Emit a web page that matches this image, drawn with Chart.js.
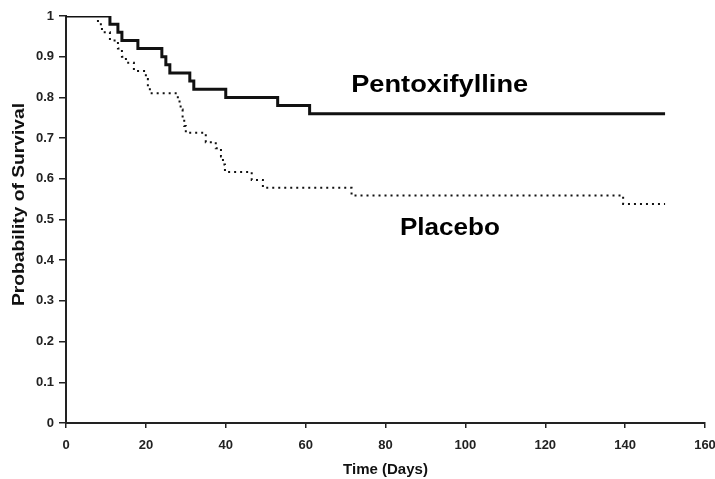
<!DOCTYPE html>
<html>
<head>
<meta charset="utf-8">
<script src="https://cdn.jsdelivr.net/npm/chart.js@4.4.1/dist/chart.umd.min.js"></script>
<style>
  html, body { margin: 0; padding: 0; background: #fff; }
  #c { display: block; }
</style>
</head>
<body>
<canvas id="c" width="715" height="479"></canvas>
<script>
// ---- data ----
const pentoxDays = [0, 11, 13, 14, 18, 24, 25, 26, 31, 32, 40, 53, 61, 150];
const pentoxSurv = [1, 0.98, 0.96, 0.94, 0.92, 0.90, 0.88, 0.86, 0.84, 0.82, 0.80, 0.78, 0.76, 0.76];

const placeboDays = [0, 8, 9, 11, 13, 14, 15, 17, 20, 20.5, 21, 28, 28.7, 29.2, 29.6, 30, 35, 37.5, 38.8, 39.3, 39.8, 46.5, 49.3, 71.5, 139.5, 150];
const placeboSurv = [1, 0.98, 0.96, 0.94, 0.92, 0.90, 0.885, 0.865, 0.845, 0.825, 0.81, 0.79, 0.77, 0.75, 0.73, 0.713, 0.69, 0.675, 0.655, 0.635, 0.617, 0.597, 0.578, 0.559, 0.538, 0.538];

const seriesNames = ['Pentoxifylline', 'Placebo'];
const xTickLabels = ['0', '20', '40', '60', '80', '100', '120', '140', '160'];
const yTickLabels = ['0', '0.1', '0.2', '0.3', '0.4', '0.5', '0.6', '0.7', '0.8', '0.9', '1'];
const xTitle = 'Time (Days)';
const yTitle = 'Probability of Survival';

// ---- label placement (style, not data) ----
const seriesLabelStyle = [
  { x: 71.4, y: 0.813, size: 24, width: 177 },
  { x: 83.6, y: 0.462, size: 24, width: 100 }
];

const toPoints = (xs, ys) => xs.map((d, i) => ({ x: d, y: ys[i] }));

const textPlugin = {
  id: 'textPlugin',
  afterDraw(chart) {
    const { ctx, scales: { x, y } } = chart;
    ctx.save();
    ctx.fillStyle = '#000';
    ctx.textBaseline = 'alphabetic';
    ctx.textAlign = 'left';
    seriesNames.forEach((name, i) => {
      const s = seriesLabelStyle[i];
      ctx.font = 'bold ' + s.size + 'px "Liberation Sans", Arial, sans-serif';
      const w = ctx.measureText(name).width;
      const px = x.getPixelForValue(s.x);
      const py = y.getPixelForValue(s.y);
      ctx.save();
      ctx.translate(px, py);
      ctx.scale(s.width / w, 1);
      ctx.fillText(name, 0, 0);
      ctx.restore();
    });
    // y axis title
    ctx.font = 'bold 16px "Liberation Sans", Arial, sans-serif';
    ctx.fillStyle = '#111';
    const tw = ctx.measureText(yTitle).width;
    ctx.translate(20, 204.5);
    ctx.rotate(-Math.PI / 2);
    ctx.scale(203 / tw, 1);
    ctx.textAlign = 'center';
    ctx.textBaseline = 'middle';
    ctx.fillText(yTitle, 0, 0);
    ctx.restore();
  }
};

new Chart(document.getElementById('c'), {
  type: 'line',
  data: {
    datasets: [
      {
        label: seriesNames[0],
        data: toPoints(pentoxDays, pentoxSurv),
        stepped: true,
        borderColor: '#111',
        borderWidth: 3,
        pointRadius: 0,
        fill: false
      },
      {
        label: seriesNames[1],
        data: toPoints(placeboDays, placeboSurv),
        stepped: true,
        borderColor: '#111',
        borderWidth: 2,
        borderDash: [2, 4],
        pointRadius: 0,
        fill: false
      }
    ]
  },
  options: {
    responsive: false,
    animation: false,
    devicePixelRatio: 1,
    layout: { padding: { top: 16, right: 10, left: 0, bottom: 0 } },
    plugins: { legend: { display: false }, tooltip: { enabled: false } },
    scales: {
      x: {
        type: 'linear',
        min: 0, max: 160,
        afterFit(s) { s.height = 56; s.paddingLeft = 0; s.paddingRight = 0; },
        border: { display: true, color: '#222', width: 2 },
        grid: { drawOnChartArea: false, drawTicks: true, tickLength: 5, color: '#222', lineWidth: 1.5 },
        ticks: {
          stepSize: 20,
          padding: 10,
          color: '#222',
          font: { family: '"Liberation Sans", Arial, sans-serif', size: 13, weight: 'bold' },
          maxRotation: 0,
          callback: (v, i) => xTickLabels[i]
        },
        title: {
          display: true,
          text: xTitle,
          color: '#111',
          font: { family: '"Liberation Sans", Arial, sans-serif', size: 15, weight: 'bold' },
          padding: { top: 0, bottom: 0 }
        }
      },
      y: {
        type: 'linear',
        min: 0, max: 1,
        afterFit(s) { s.width = 66; },
        border: { display: true, color: '#222', width: 2 },
        grid: { drawOnChartArea: false, drawTicks: true, tickLength: 7, color: '#222', lineWidth: 1.5 },
        ticks: {
          stepSize: 0.1,
          padding: 5,
          color: '#222',
          font: { family: '"Liberation Sans", Arial, sans-serif', size: 13, weight: 'bold' },
          callback: (v, i) => yTickLabels[i]
        },
        title: { display: false }
      }
    }
  },
  plugins: [textPlugin]
});
</script>
</body>
</html>
